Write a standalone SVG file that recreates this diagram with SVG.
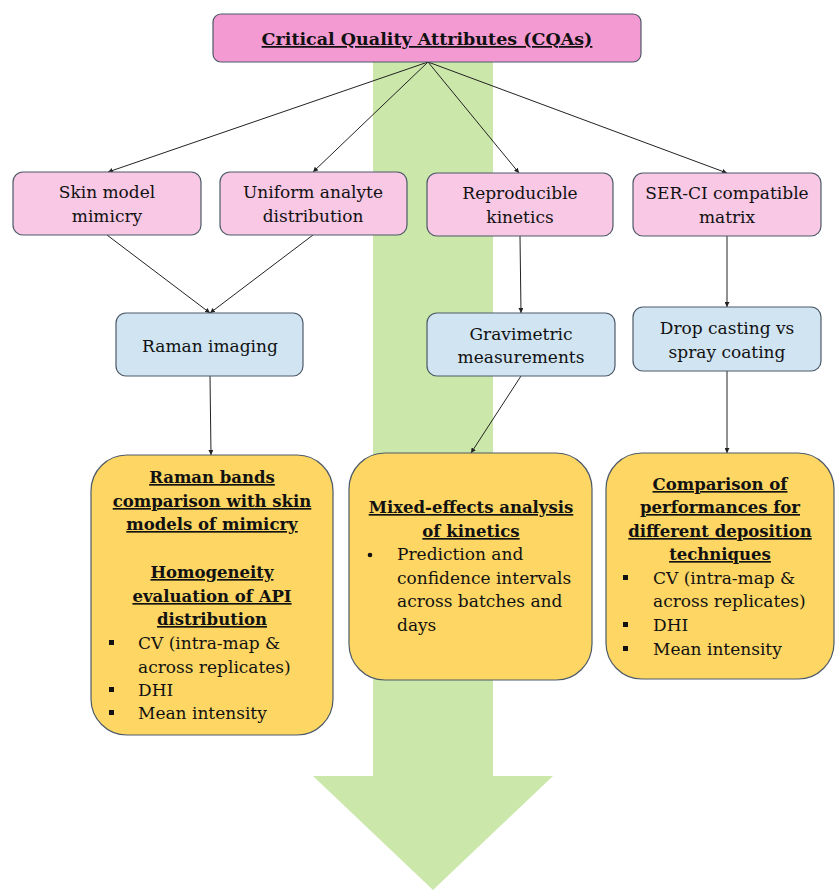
<svg xmlns="http://www.w3.org/2000/svg" width="836" height="890" viewBox="0 0 836 890">
<style>
text{font-family:"DejaVu Serif","Liberation Serif",serif;fill:#111;}
.t{font-size:17px;text-anchor:middle;}
.h{font-size:16.5px;font-weight:bold;text-anchor:middle;text-decoration:underline;}
.b{font-size:17px;}
.pink{fill:#f8c8e4;stroke:#4d5a68;stroke-width:1.2;}
.blue{fill:#d0e4f2;stroke:#4d5a68;stroke-width:1.2;}
.yel{fill:#fdd663;stroke:#4d5a68;stroke-width:1.2;}
.c{stroke:#222;stroke-width:1;fill:none;marker-end:url(#a);}
</style>
<defs>
<marker id="a" viewBox="0 0 10 10" refX="10" refY="5" markerWidth="5" markerHeight="5" orient="auto" markerUnits="userSpaceOnUse"><path d="M0,0 L10,5 L0,10 z" fill="#222"/></marker>
</defs>
<rect width="836" height="890" fill="#fff"/>
<g id="bigarrow"><polygon points="373,30 493,30 493,776 553,776 433,890 313,776 373,776" fill="#cbe7a9"/></g>
<g id="connectors">
<line class="c" x1="428" y1="62" x2="108" y2="172"/>
<line class="c" x1="428" y1="62" x2="313" y2="172"/>
<line class="c" x1="428" y1="62" x2="519" y2="173"/>
<line class="c" x1="428" y1="62" x2="727" y2="173"/>
<line class="c" x1="107" y1="235" x2="210" y2="313"/>
<line class="c" x1="313" y1="235" x2="210" y2="313"/>
<line class="c" x1="520" y1="236" x2="521" y2="313"/>
<line class="c" x1="727" y1="236" x2="727" y2="307"/>
<line class="c" x1="210" y1="376" x2="211" y2="455"/>
<line class="c" x1="521" y1="376" x2="471" y2="453"/>
<line class="c" x1="727" y1="371" x2="727" y2="453"/>
</g>
<g id="cqa"><rect x="213" y="14" width="428" height="48" rx="8" fill="#f49ad2" stroke="#4d5a68" stroke-width="1.2"/>
<text x="427" y="45" style="font-size:17.5px;font-weight:bold;text-anchor:middle;text-decoration:underline;">Critical Quality Attributes (CQAs)</text></g>
<g id="skin"><rect class="pink" x="13" y="172" width="188" height="63" rx="10"/>
<text class="t" x="107" y="198">Skin model</text><text class="t" x="107" y="222">mimicry</text></g>
<g id="uniform"><rect class="pink" x="220" y="172" width="187" height="63" rx="10"/>
<text class="t" x="313" y="198">Uniform analyte</text><text class="t" x="313" y="222">distribution</text></g>
<g id="repro"><rect class="pink" x="427" y="173" width="186" height="63" rx="10"/>
<text class="t" x="520" y="199">Reproducible</text><text class="t" x="520" y="223">kinetics</text></g>
<g id="serci"><rect class="pink" x="633" y="173" width="188" height="63" rx="10"/>
<text class="t" x="727" y="199">SER-CI compatible</text><text class="t" x="727" y="223">matrix</text></g>
<g id="raman"><rect class="blue" x="116" y="313" width="187" height="63" rx="10"/>
<text class="t" x="210" y="352">Raman imaging</text></g>
<g id="grav"><rect class="blue" x="427" y="313" width="188" height="63" rx="10"/>
<text class="t" x="521" y="340">Gravimetric</text><text class="t" x="521" y="363">measurements</text></g>
<g id="drop"><rect class="blue" x="633" y="307" width="188" height="64" rx="10"/>
<text class="t" x="727" y="334">Drop casting vs</text><text class="t" x="727" y="358">spray coating</text></g>
<g id="leftres"><rect class="yel" x="91" y="455" width="242" height="280" rx="36"/>
<text class="h" x="212" y="483">Raman bands</text>
<text class="h" x="212" y="507">comparison with skin</text>
<text class="h" x="212" y="530">models of mimicry</text>
<text class="h" x="212" y="578">Homogeneity</text>
<text class="h" x="212" y="602">evaluation of API</text>
<text class="h" x="212" y="625">distribution</text>
<rect x="109" y="640" width="5" height="5" fill="#111"/>
<rect x="109" y="687" width="5" height="5" fill="#111"/>
<rect x="109" y="710" width="5" height="5" fill="#111"/>
<text class="b" x="138" y="649">CV (intra-map &amp;</text>
<text class="b" x="138" y="673">across replicates)</text>
<text class="b" x="138" y="696">DHI</text>
<text class="b" x="138" y="719">Mean intensity</text></g>
<g id="midres"><rect class="yel" x="349" y="453" width="243" height="227" rx="36"/>
<text class="h" x="471" y="513">Mixed-effects analysis</text>
<text class="h" x="471" y="537">of kinetics</text>
<circle cx="370" cy="555" r="2.3" fill="#111"/>
<text class="b" x="397" y="560">Prediction and</text>
<text class="b" x="397" y="584">confidence intervals</text>
<text class="b" x="397" y="607">across batches and</text>
<text class="b" x="397" y="631">days</text></g>
<g id="rightres"><rect class="yel" x="606" y="453" width="228" height="226" rx="36"/>
<text class="h" x="720" y="490">Comparison of</text>
<text class="h" x="720" y="513">performances for</text>
<text class="h" x="720" y="537">different deposition</text>
<text class="h" x="720" y="560">techniques</text>
<rect x="623" y="575" width="5" height="5" fill="#111"/>
<rect x="623" y="622" width="5" height="5" fill="#111"/>
<rect x="623" y="646" width="5" height="5" fill="#111"/>
<text class="b" x="653" y="584">CV (intra-map &amp;</text>
<text class="b" x="653" y="607">across replicates)</text>
<text class="b" x="653" y="631">DHI</text>
<text class="b" x="653" y="655">Mean intensity</text></g>
</svg>
